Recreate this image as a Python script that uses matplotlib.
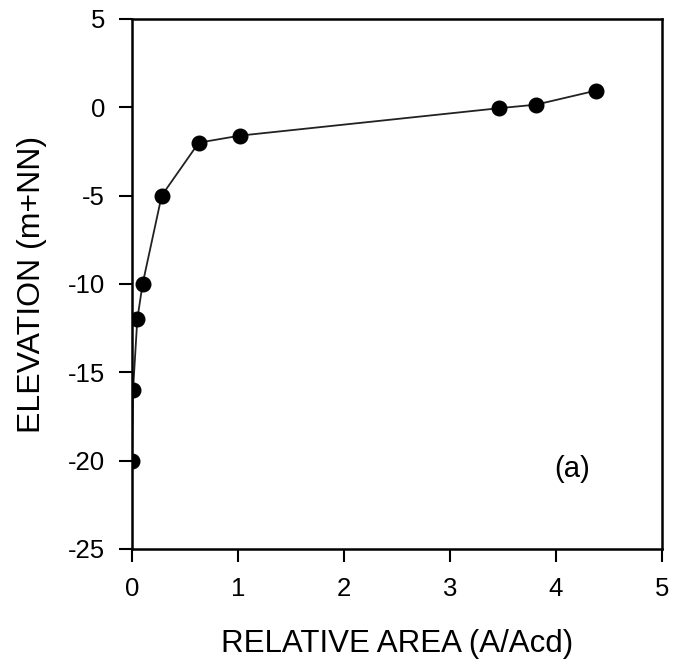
import matplotlib
matplotlib.use("Agg")
import matplotlib.pyplot as plt

# relative area vs elevation
rel_area = [0.0, 0.01, 0.05, 0.10, 0.28, 0.63, 1.02, 3.46, 3.81, 4.38]
elevation = [-20, -16, -12, -10, -5, -2, -1.6, -0.05, 0.15, 0.95]

x_ticks = [0, 1, 2, 3, 4, 5]
y_ticks = [-25, -20, -15, -10, -5, 0, 5]

plt.rcParams['font.family'] = ['Liberation Sans', 'DejaVu Sans']
plt.rcParams['axes.unicode_minus'] = False

fig = plt.figure(figsize=(6.74, 6.72), dpi=100)
ax = fig.add_axes([132 / 674, 1 - 549 / 672, 530 / 674, 530 / 672])

ax.plot(rel_area, elevation, color='#222222', lw=1.3, marker='o',
        markersize=10.5, markerfacecolor='black', markeredgecolor='black')

ax.set_xlim(0, 5)
ax.set_ylim(-25, 5)
ax.set_xticks(x_ticks)
ax.set_yticks(y_ticks)
ax.tick_params(direction='out', length=9.5, width=1.5, labelsize=18.5)
ax.tick_params(axis='y', pad=10)
ax.tick_params(axis='x', pad=11)
for s in ax.spines.values():
    s.set_linewidth(1.8)

ax.set_xlabel('RELATIVE AREA (A/Acd)', fontsize=22.5, labelpad=20)
ax.set_ylabel('ELEVATION (m+NN)', fontsize=23, labelpad=15)
ax.text(4.15, -20.5, '(a)', fontsize=21, ha='center', va='center')

fig.savefig('out.png', dpi=100)
